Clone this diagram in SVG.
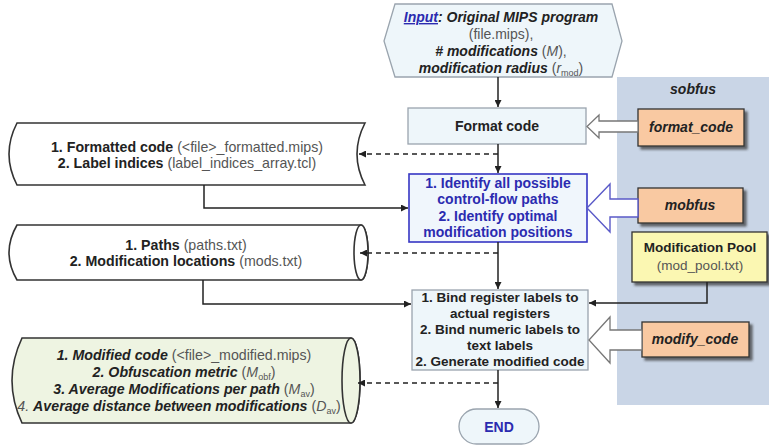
<svg xmlns="http://www.w3.org/2000/svg" width="769" height="446" viewBox="0 0 769 446">
<defs>
<marker id="ah" viewBox="0 0 10 10" refX="10" refY="5" markerWidth="7" markerHeight="7" orient="auto" markerUnits="userSpaceOnUse">
<path d="M0,0 L10,5 L0,10 z" fill="#222"/>
</marker>
<filter id="sh" x="-10%" y="-10%" width="130%" height="140%">
<feDropShadow dx="3" dy="3" stdDeviation="1" flood-color="#333" flood-opacity="0.7"/>
</filter>
</defs>
<style>
text{font-family:"Liberation Sans",Arial,sans-serif;font-size:13.5px;fill:#555;text-anchor:middle}
.b{font-weight:bold;fill:#222}
.bi{font-weight:bold;font-style:italic;fill:#222}
.i{font-style:italic}
.blue{fill:#2b2bb0;font-weight:bold}
.box{fill:#eef6fa;stroke:#9aa4ae;stroke-width:1.3}
.peach{fill:#f9c9a2;stroke:#333;stroke-width:1.3;filter:url(#sh)}
.cyl{fill:#fff;stroke:#333;stroke-width:1.6}
.ln{fill:none;stroke:#222;stroke-width:1.5}
.dash{fill:none;stroke:#222;stroke-width:1.5;stroke-dasharray:5,4}
.pk{font-size:14px}
.ct{font-size:14.2px}
</style>

<rect id="sobfus" x="617" y="77" width="152" height="328" fill="#c9d5e6"/>
<text x="693" y="94" class="bi pk">sobfus</text>

<g id="input">
<polygon points="395,4 612,4 622,41 612,77 395,77 384,41" class="box" fill="#eef4f8"/>
<text x="501" y="22" class="pk"><tspan class="bi" style="fill:#2b2bb0;text-decoration:underline">Input</tspan><tspan class="bi">: Original MIPS program</tspan></text>
<text x="501" y="39" class="pk">(file.mips),</text>
<text x="501" y="56" class="pk"><tspan class="bi"># modifications </tspan>(<tspan class="i">M</tspan>),</text>
<text x="501" y="73" class="pk"><tspan class="bi">modification radius </tspan>(<tspan class="i">r</tspan><tspan font-size="9" dy="3">mod</tspan><tspan dy="-3">)</tspan></text>
</g>

<g id="format">
<rect x="408" y="108" width="178" height="36" class="box"/>
<text x="497" y="131" class="b pk">Format code</text>
</g>

<g id="format_code">
<rect x="638" y="109" width="106" height="37" class="peach"/>
<text x="691" y="132" class="bi pk">format_code</text>
</g>

<g id="identify">
<rect x="409" y="174" width="178" height="68" fill="#f0f6fc" stroke="#3636c4" stroke-width="1.6"/>
<text x="498" y="188" class="blue pk">1. Identify all possible</text>
<text x="498" y="204" class="blue pk">control-flow paths</text>
<text x="498" y="221" class="blue pk">2. Identify optimal</text>
<text x="498" y="237" class="blue pk">modification positions</text>
</g>

<g id="mobfus">
<rect x="638" y="188" width="105" height="35" class="peach"/>
<text x="690" y="210" class="bi pk">mobfus</text>
</g>

<g id="pool">
<rect x="632" y="232" width="135" height="50" fill="#fbf7b2" stroke="#333" stroke-width="1.3" filter="url(#sh)"/>
<text x="700" y="252" class="b">Modification Pool</text>
<text x="700" y="270">(mod_pool.txt)</text>
</g>

<g id="bind">
<rect x="412" y="290" width="176" height="80" class="box"/>
<text x="500" y="302" class="b">1. Bind register labels to</text>
<text x="500" y="318" class="b">actual registers</text>
<text x="500" y="334" class="b">2. Bind numeric labels to</text>
<text x="500" y="350" class="b">text labels</text>
<text x="500" y="366" class="b">2. Generate modified code</text>
</g>

<g id="modify_code">
<rect x="642" y="322" width="107" height="35" class="peach"/>
<text x="695" y="344" class="bi pk">modify_code</text>
</g>

<g id="end">
<rect x="459" y="409" width="80" height="35" rx="17.5" class="box"/>
<text x="499" y="432" class="blue pk">END</text>
</g>

<g id="formatted">
<path d="M17,123 L365,123 Q349,154 365,185 L17,185 Q1,154 17,123 Z" class="cyl"/>
<text x="187" y="152" class="ct"><tspan class="b">1. Formatted code </tspan>(&lt;file&gt;_formatted.mips)</text>
<text x="187" y="168" class="ct"><tspan class="b">2. Label indices </tspan>(label_indices_array.tcl)</text>
</g>

<g id="paths">
<path d="M17,225 L361,225 A7,27.5 0 0 1 361,280 L17,280 Q1,252.5 17,225 Z" class="cyl"/>
<ellipse cx="361" cy="252.5" rx="7" ry="27.5" class="cyl"/>
<text x="186" y="250" class="ct"><tspan class="b">1. Paths </tspan>(paths.txt)</text>
<text x="186" y="266" class="ct"><tspan class="b">2. Modification locations </tspan>(mods.txt)</text>
</g>

<g id="modified">
<path d="M22,338 L351,338 A9,42.5 0 0 1 351,423 L22,423 Q2,380.5 22,338 Z" fill="#eef4e2" stroke="#333" stroke-width="1.6"/>
<ellipse cx="351" cy="380.5" rx="9" ry="42.5" fill="#eef4e2" stroke="#333" stroke-width="1.6"/>
<text x="184" y="360" class="ct"><tspan class="bi">1. Modified code </tspan>(&lt;file&gt;_modified.mips)</text>
<text x="184" y="377" class="ct"><tspan class="bi">2. Obfuscation metric </tspan>(<tspan class="i">M</tspan><tspan font-size="9" dy="3">obf</tspan><tspan dy="-3">)</tspan></text>
<text x="184" y="394" class="ct"><tspan class="bi">3. Average Modifications per path </tspan>(<tspan class="i">M</tspan><tspan font-size="9" dy="3">av</tspan><tspan dy="-3">)</tspan></text>
<text x="179" y="411" class="ct"><tspan class="i">4. </tspan><tspan class="bi">Average distance between modifications </tspan>(<tspan class="i">D</tspan><tspan font-size="9" dy="3">av</tspan><tspan dy="-3">)</tspan></text>
</g>

<g id="connectors">
<line x1="498" y1="77" x2="498" y2="107" class="ln" marker-end="url(#ah)"/>
<line x1="498" y1="144" x2="498" y2="173" class="ln" marker-end="url(#ah)"/>
<line x1="498" y1="154" x2="359" y2="154" class="dash" marker-end="url(#ah)"/>
<polyline points="204,185 204,208 408,208" class="ln" marker-end="url(#ah)"/>
<line x1="498" y1="242" x2="498" y2="289" class="ln" marker-end="url(#ah)"/>
<line x1="498" y1="253" x2="360" y2="253" class="dash" marker-end="url(#ah)"/>
<polyline points="203,280 203,304 411,304" class="ln" marker-end="url(#ah)"/>
<polyline points="707,282 707,303 589,303" class="ln" marker-end="url(#ah)"/>
<line x1="498" y1="370" x2="498" y2="408" class="ln" marker-end="url(#ah)"/>
<line x1="498" y1="383" x2="358" y2="383" class="dash" marker-end="url(#ah)"/>
<polygon points="638,121 599,121 599,115 587,126.5 599,138 599,132 638,132" fill="#fff" stroke="#777" stroke-width="1.3"/>
<polygon points="638,199 610,199 610,184 587,208 610,232 610,217 638,217" fill="#fff" stroke="#5a5ac8" stroke-width="1.4"/>
<polygon points="642,330 610,330 610,317 589,340 610,363 610,350 642,350" fill="#fff" stroke="#777" stroke-width="1.3"/>
</g>
</svg>
